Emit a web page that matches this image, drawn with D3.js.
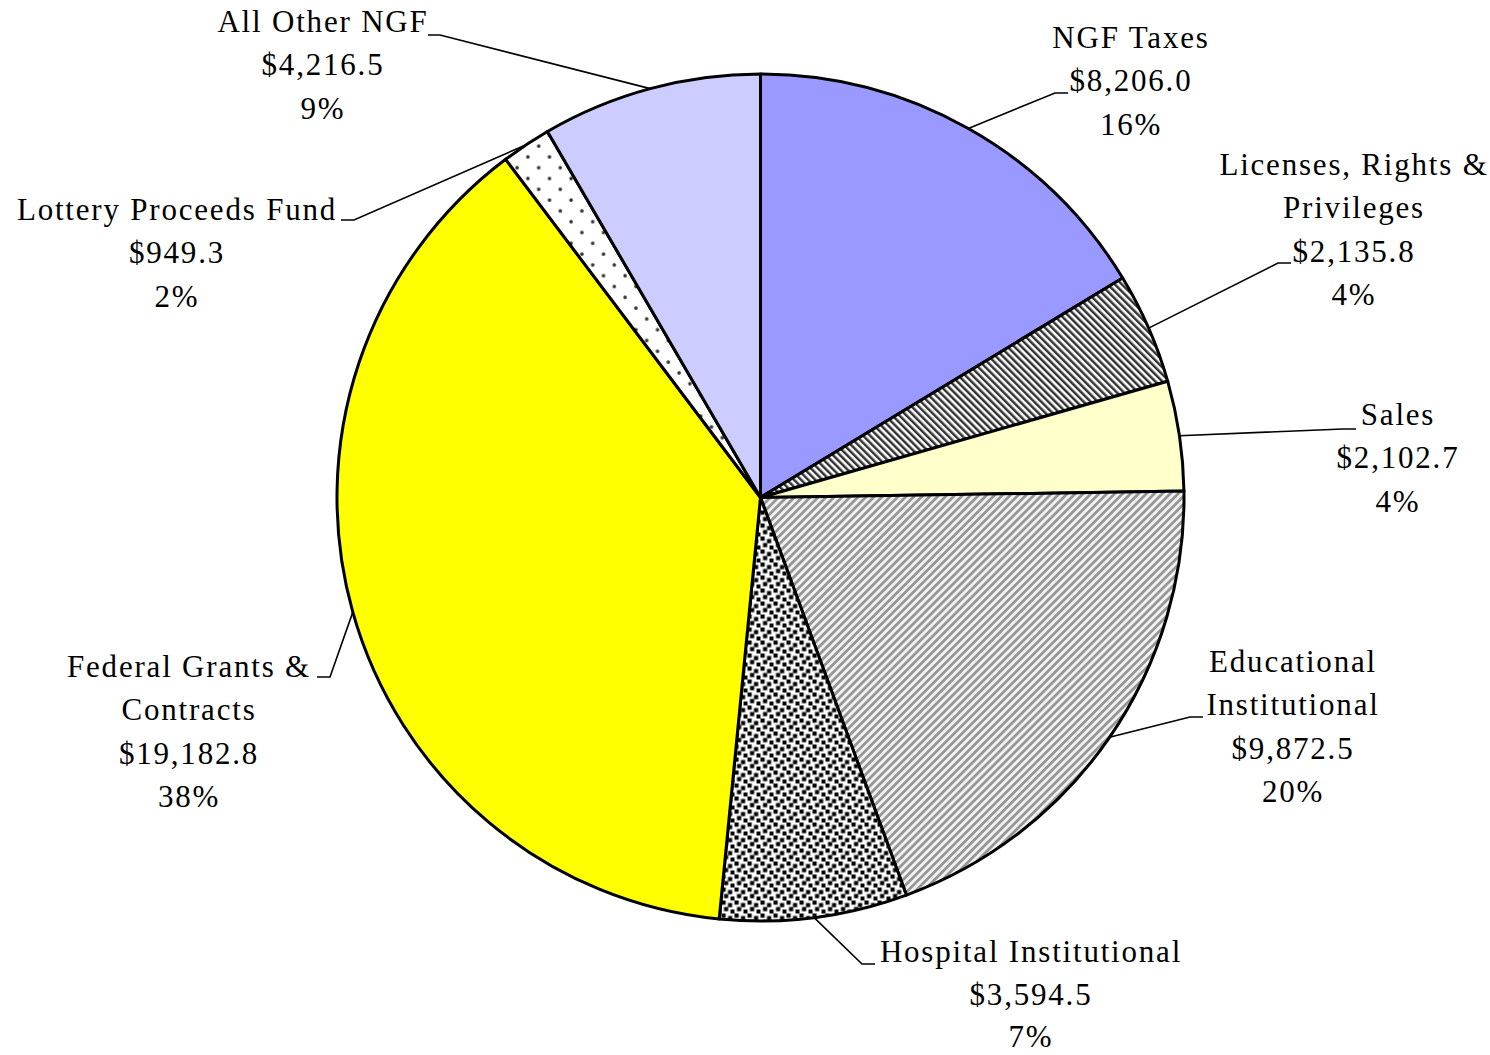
<!DOCTYPE html>
<html>
<head>
<meta charset="utf-8">
<script src="https://cdn.jsdelivr.net/npm/d3@7"></script>
<style>
  html, body { margin: 0; padding: 0; background: #fff; }
  svg { display: block; }
  text { font-family: "Liberation Serif", "Times New Roman", serif; font-size: 31px; letter-spacing: 1.8px; fill: #000; }
</style>
</head>
<body>
<svg id="chart" width="1490" height="1055"></svg>
<script>
// ---- data ----
const categories = ["NGF Taxes", "Licenses, Rights & Privileges", "Sales", "Educational Institutional",
  "Hospital Institutional", "Federal Grants & Contracts", "Lottery Proceeds Fund", "All Other NGF"];
const labelLines = [["NGF Taxes"], ["Licenses, Rights &", "Privileges"], ["Sales"], ["Educational", "Institutional"],
  ["Hospital Institutional"], ["Federal Grants &", "Contracts"], ["Lottery Proceeds Fund"], ["All Other NGF"]];
const values = [8206.0, 2135.8, 2102.7, 9872.5, 3594.5, 19182.8, 949.3, 4216.5];
const percentLabels = ["16%", "4%", "4%", "20%", "7%", "38%", "2%", "9%"];

// ---- layout (positions only) ----
const fills = ["#9999FF", "url(#pLic)", "#FFFFCC", "url(#pEdu)", "url(#pHosp)", "#FFFF00", "url(#pLot)", "#CCCCFF"];
const labelLayout = [
  { x: 1131, y: 48,  lh: 43.3, elbow: [1055, 93],  end: 1068 },
  { x: 1354, y: 175, lh: 43.3, elbow: [1278, 263], end: 1291 },
  { x: 1398, y: 425, lh: 43.3, elbow: [1343, 429], end: 1356 },
  { x: 1293, y: 672, lh: 43.3, elbow: [1190, 717], end: 1203 },
  { x: 1031, y: 962, lh: 42.6, elbow: [862, 964],  end: 875 },
  { x: 189,  y: 677, lh: 43.3, elbow: [330, 677],  end: 317 },
  { x: 177,  y: 220, lh: 43.3, elbow: [354, 220],  end: 341 },
  { x: 323,  y: 32,  lh: 43.3, elbow: [440, 35],   end: 428 }
];
const cx = 760.5, cy = 497.5, R = 423.5;

const svg = d3.select("#chart");
const defs = svg.append("defs");

// Licenses: dark downward diagonal
const pLic = defs.append("pattern").attr("id", "pLic").attr("patternUnits", "userSpaceOnUse")
  .attr("width", 5).attr("height", 5).attr("patternTransform", "rotate(-45)");
pLic.append("rect").attr("width", 5).attr("height", 5).attr("fill", "#fff");
pLic.append("rect").attr("width", 2.5).attr("height", 5).attr("fill", "#333");

// Educational: gray upward diagonal
const pEdu = defs.append("pattern").attr("id", "pEdu").attr("patternUnits", "userSpaceOnUse")
  .attr("width", 5.6).attr("height", 5.6).attr("patternTransform", "rotate(45)");
pEdu.append("rect").attr("width", 5.6).attr("height", 5.6).attr("fill", "#f2f2f2");
pEdu.append("rect").attr("width", 2.8).attr("height", 5.6).attr("fill", "#969696");

// Hospital: black squares
const pHosp = defs.append("pattern").attr("id", "pHosp").attr("patternUnits", "userSpaceOnUse")
  .attr("width", 13).attr("height", 13);
pHosp.append("rect").attr("width", 13).attr("height", 13).attr("fill", "#fff");
[[0, 0], [6.5, 2.5], [2.5, 6.5], [9, 9]].forEach(([x, y]) =>
  pHosp.append("rect").attr("x", x).attr("y", y).attr("width", 4.2).attr("height", 4.2).attr("fill", "#000"));

// Lottery: sparse dots
const pLot = defs.append("pattern").attr("id", "pLot").attr("patternUnits", "userSpaceOnUse")
  .attr("width", 21.6).attr("height", 21.6);
pLot.append("rect").attr("width", 21.6).attr("height", 21.6).attr("fill", "#fff");
[[5, 5], [15.8, 15.8]].forEach(([x, y]) =>
  pLot.append("circle").attr("cx", x).attr("cy", y).attr("r", 1.8).attr("fill", "#333"));

const pie = d3.pie().sort(null).value(d => d);
const arcs = pie(values);
const arc = d3.arc().innerRadius(0).outerRadius(R);

const g = svg.append("g").attr("transform", `translate(${cx},${cy})`);
g.selectAll("path.slice").data(arcs).join("path")
  .attr("class", "slice")
  .attr("d", arc)
  .attr("fill", (d, i) => fills[i])
  .attr("stroke", "#000")
  .attr("stroke-width", 3)
  .attr("stroke-linejoin", "round");

// leader lines
arcs.forEach((a, i) => {
  const mid = (a.startAngle + a.endAngle) / 2;
  const sx = cx + R * Math.sin(mid), sy = cy - R * Math.cos(mid);
  const L = labelLayout[i];
  svg.append("path")
    .attr("d", d3.line()([[sx, sy], L.elbow, [L.end, L.elbow[1]]]))
    .attr("fill", "none").attr("stroke", "#000").attr("stroke-width", 1.6);
});

// labels
const fmt = d3.format(",.1f");
arcs.forEach((a, i) => {
  const L = labelLayout[i];
  const lines = labelLines[i].concat(["$" + fmt(values[i]), percentLabels[i]]);
  const t = svg.append("text").attr("text-anchor", "middle");
  lines.forEach((s, k) => t.append("tspan").attr("x", L.x).attr("y", L.y + k * L.lh).text(s));
});
</script>
</body>
</html>
